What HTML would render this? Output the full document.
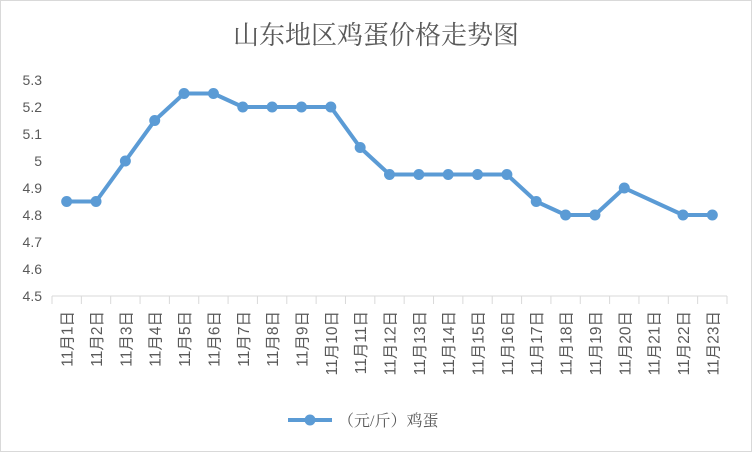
<!DOCTYPE html>
<html><head><meta charset="utf-8"><style>
body{margin:0;background:#fff}
svg{display:block;font-family:"Liberation Sans","Noto Sans CJK SC",sans-serif}
</style></head><body>
<svg id="c" width="752" height="452">
<rect x="0.5" y="0.5" width="751" height="451" fill="#fff" stroke="#d9d9d9"/>
<text x="376" y="44" text-anchor="middle" font-size="26" fill="#595959" style="font-family:'Liberation Serif','Noto Serif CJK SC',serif">山东地区鸡蛋价格走势图</text>
<g id="yax"></g>
<g id="xax"></g>
<g id="ser"></g>
<g>
<line x1="288" y1="420" x2="332" y2="420" stroke="#5b9bd5" stroke-width="4"/>
<circle cx="310" cy="420" r="5.5" fill="#5b9bd5"/>
<text x="338" y="426" font-size="16" fill="#595959" style="font-family:'Liberation Serif','Noto Serif CJK SC',serif">（元/斤）鸡蛋</text>
</g>
</svg>
<script>
const categories=["11月1日","11月2日","11月3日","11月4日","11月5日","11月6日","11月7日","11月8日","11月9日","11月10日","11月11日","11月12日","11月13日","11月14日","11月15日","11月16日","11月17日","11月18日","11月19日","11月20日","11月21日","11月22日","11月23日"];
const prices=[4.85,4.85,5.0,5.15,5.25,5.25,5.2,5.2,5.2,5.2,5.05,4.95,4.95,4.95,4.95,4.95,4.85,4.8,4.8,4.9,null,4.8,4.8];
const yTicks=[4.5,4.6,4.7,4.8,4.9,5,5.1,5.2,5.3];
const yTickLabels=["4.5","4.6","4.7","4.8","4.9","5","5.1","5.2","5.3"];
const NS="http://www.w3.org/2000/svg";
const L=52,R=727,T=80,B=296,ymin=4.5,ymax=5.3;
const bw=(R-L)/categories.length;
const xs=i=>L+bw*(i+0.5);
const ys=v=>B-(v-ymin)/(ymax-ymin)*(B-T);
function mk(t,a,p){const e=document.createElementNS(NS,t);for(const k in a)e.setAttribute(k,a[k]);p.appendChild(e);return e;}
const yax=document.getElementById('yax'),xax=document.getElementById('xax'),ser=document.getElementById('ser');
yTicks.forEach((v,i)=>{const t=mk('text',{x:L-10,y:ys(v)+5,'text-anchor':'end','font-size':14,fill:'#595959'},yax);t.textContent=yTickLabels[i];

});
const ax=mk('line',{x1:L,y1:B,x2:R,y2:B,stroke:'#d9d9d9','stroke-width':1},xax);


for(let i=0;i<=categories.length;i++){const x=L+bw*i;const tk=mk('line',{x1:x,y1:B,x2:x,y2:B+8,stroke:'#d9d9d9'},xax);

}
categories.forEach((c,i)=>{const x=xs(i)+6;const t=mk('text',{x:x,y:311,'text-anchor':'end','font-size':15.5,fill:'#595959',transform:`rotate(-90 ${x} 311)`},xax);t.textContent=c;

});
let d='';prices.forEach((v,i)=>{if(v==null)return;d+=(d?'L':'M')+xs(i)+','+ys(v);});
const p=mk('path',{d:d,fill:'none',stroke:'#5b9bd5','stroke-width':4,'stroke-linejoin':'round'},ser);


prices.forEach((v,i)=>{if(v==null)return;const c=mk('circle',{cx:xs(i),cy:ys(v),r:5.5,fill:'#5b9bd5'},ser);

});
</script>
</body></html>
